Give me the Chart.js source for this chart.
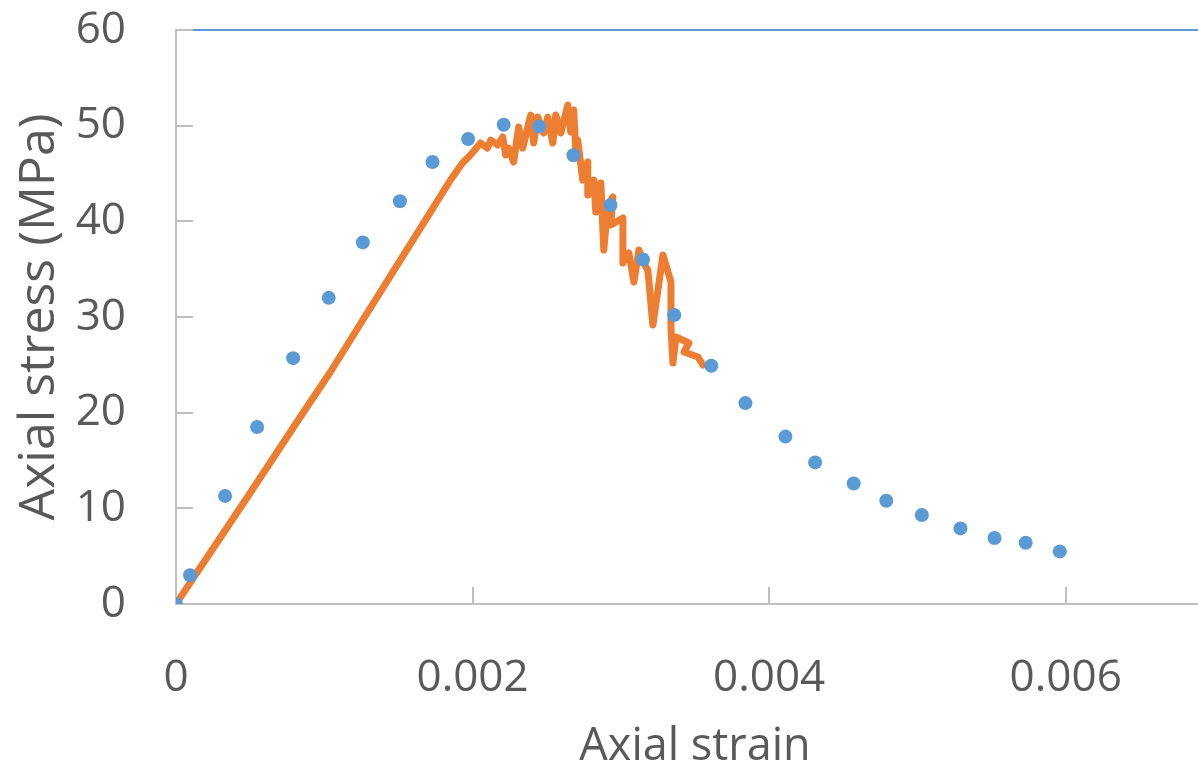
<!DOCTYPE html>
<html>
<head>
<meta charset="utf-8">
<script src="https://cdn.jsdelivr.net/npm/chart.js@4.4.0/dist/chart.umd.min.js"></script>
<style>
html,body{margin:0;padding:0;background:#fff;overflow:hidden;}
#wrap{width:1198px;height:765px;overflow:hidden;position:relative;}
canvas{display:block;}
</style>
</head>
<body>
<div id="wrap"><canvas id="c" width="1221" height="765"></canvas></div>
<script>
// Blue points (model): axial strain, axial stress (MPa)
const modelStrain = [0, 0.000095, 0.000331, 0.000547, 0.00079, 0.00103, 0.00126, 0.00151, 0.00173, 0.00197, 0.00221, 0.00245, 0.00268, 0.00293, 0.00315, 0.00336, 0.00361, 0.00384, 0.00411, 0.00431, 0.00457, 0.00479, 0.00503, 0.00529, 0.00552, 0.00573, 0.00596];
const modelStress = [0, 3.0, 11.3, 18.5, 25.7, 32.0, 37.8, 42.1, 46.2, 48.6, 50.1, 49.9, 46.9, 41.7, 36.0, 30.2, 24.9, 21.0, 17.5, 14.8, 12.6, 10.8, 9.3, 7.9, 6.9, 6.4, 5.5];

// Orange line (test): axial strain, axial stress (MPa)
const testStrain = [0, 0.000162, 0.000500, 0.000838, 0.001041, 0.001243, 0.001514, 0.001716, 0.001851, 0.001932, 0.001986, 0.002054, 0.002101, 0.002122, 0.002169, 0.002203, 0.002223, 0.002243, 0.002277, 0.002311, 0.002338, 0.002392, 0.002412, 0.002439, 0.002480, 0.002507, 0.002541, 0.002561, 0.002595, 0.002642, 0.002662, 0.002682, 0.002696, 0.002709, 0.002743, 0.002777, 0.002777, 0.002818, 0.002831, 0.002865, 0.002885, 0.002912, 0.002946, 0.002932, 0.003014, 0.003014, 0.003054, 0.003088, 0.003122, 0.003169, 0.003182, 0.003216, 0.003284, 0.003338, 0.003338, 0.003351, 0.003372, 0.003459, 0.003426, 0.003520, 0.003554];
const testStress = [0, 3.76, 11.60, 19.55, 24.25, 29.27, 35.96, 40.97, 44.32, 46.10, 46.93, 48.19, 47.66, 48.50, 47.98, 48.81, 46.93, 47.66, 46.20, 49.86, 47.66, 51.11, 48.19, 50.90, 49.23, 50.90, 48.19, 51.11, 49.23, 52.16, 49.34, 51.64, 47.45, 48.50, 44.32, 46.20, 42.75, 44.32, 40.97, 44.01, 37.00, 41.71, 42.54, 39.62, 40.35, 35.64, 36.69, 33.66, 37.00, 35.22, 34.91, 29.16, 36.48, 33.66, 28.85, 25.19, 27.91, 27.28, 26.34, 25.82, 24.98];

const xTicks = [0, 0.002, 0.004, 0.006];
const yTicks = [0, 10, 20, 30, 40, 50, 60];

const axisGray = '#bfbfbf';
const textGray = '#595959';
const fontFam = '"Open Sans", "Liberation Sans", sans-serif';

const modelData = modelStrain.map((x, i) => ({x, y: modelStress[i]}));
const testData = testStrain.map((x, i) => ({x, y: testStress[i]}));

const frame = {
  id: 'frame',
  beforeDatasetsDraw(chart) {
    const {ctx, chartArea, scales} = chart;
    const xs = scales.x, ys = scales.y;
    ctx.save();
    ctx.strokeStyle = '#5b9bd5';
    ctx.lineWidth = 2;
    ctx.beginPath();
    ctx.moveTo(chartArea.left + 17, ys.getPixelForValue(60));
    ctx.lineTo(chartArea.right, ys.getPixelForValue(60));
    ctx.stroke();
    ctx.strokeStyle = axisGray;
    ctx.lineWidth = 2;
    yTicks.forEach(v => {
      const py = Math.round(ys.getPixelForValue(v));
      ctx.beginPath();
      ctx.moveTo(chartArea.left, py);
      ctx.lineTo(chartArea.left + 17, py);
      ctx.stroke();
    });
    xTicks.forEach(v => {
      const px = Math.round(xs.getPixelForValue(v));
      ctx.beginPath();
      ctx.moveTo(px, chartArea.bottom);
      ctx.lineTo(px, chartArea.bottom - 17);
      ctx.stroke();
    });
    ctx.restore();
  }
};

new Chart(document.getElementById('c'), {
  type: 'scatter',
  data: {
    datasets: [
      {
        label: 'Model',
        data: modelData,
        showLine: false,
        pointRadius: 7,
        pointHoverRadius: 7,
        pointBackgroundColor: '#5b9bd5',
        pointBorderColor: '#5b9bd5',
        pointBorderWidth: 0,
        order: 0
      },
      {
        label: 'Test',
        data: testData,
        showLine: true,
        borderColor: '#ed7d31',
        borderWidth: 7,
        pointRadius: 0,
        tension: 0,
        borderJoinStyle: 'round',
        borderCapStyle: 'round',
        order: 1
      }
    ]
  },
  options: {
    responsive: false,
    animation: false,
    devicePixelRatio: 1,
    layout: {padding: {top: 30, right: 2, left: 0, bottom: 0}},
    plugins: {legend: {display: false}, tooltip: {enabled: false}},
    scales: {
      x: {
        type: 'linear',
        min: 0,
        max: 0.007,
        afterFit(s) { s.height = 161; s.paddingLeft = 0; s.paddingRight = 0; },
        afterBuildTicks(s) { s.ticks = xTicks.map(v => ({value: v})); },
        grid: {display: false, drawTicks: false},
        border: {display: true, color: axisGray, width: 2},
        ticks: {
          padding: 48,
          color: textGray,
          font: {family: fontFam, size: 44},
          maxRotation: 0,
          callback: v => String(v)
        },
        title: {
          display: true,
          text: 'Axial strain',
          color: textGray,
          font: {family: fontFam, size: 45, lineHeight: 0.8},
          padding: {top: 0, bottom: 0}
        }
      },
      y: {
        type: 'linear',
        min: 0,
        max: 60,
        afterFit(s) { s.width = 176; s.paddingTop = 0; s.paddingBottom = 0; },
        afterBuildTicks(s) { s.ticks = yTicks.map(v => ({value: v})); },
        grid: {display: false, drawTicks: false},
        border: {display: true, color: axisGray, width: 2},
        ticks: {
          padding: 50,
          color: textGray,
          font: {family: fontFam, size: 44},
          callback: v => String(v)
        },
        title: {
          display: true,
          text: 'Axial stress (MPa)',
          color: textGray,
          font: {family: fontFam, size: 50, lineHeight: 1.2},
          padding: {top: 10, bottom: 0}
        }
      }
    }
  },
  plugins: [frame]
});
</script>
</body>
</html>
